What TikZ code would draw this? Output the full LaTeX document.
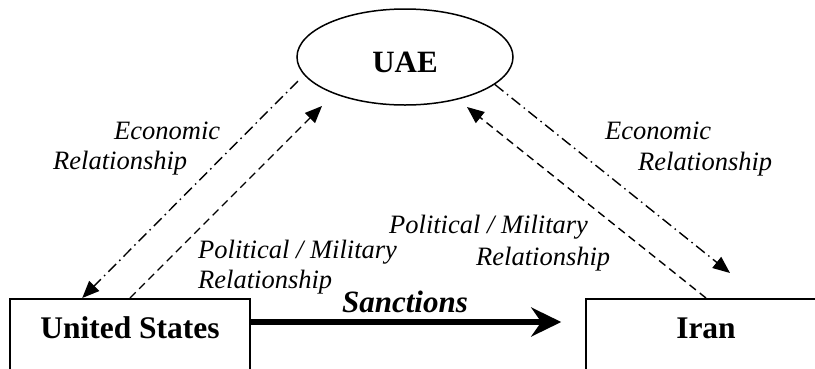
\documentclass[tikz,border=0pt]{standalone}
\usepackage{fontspec}
\setmainfont{Liberation Serif}
\usetikzlibrary{arrows.meta,calc,shapes.geometric}

\tikzset{
  actor/.style={draw, line width=1.5pt, minimum width=240pt, anchor=north,
    inner xsep=0pt, inner ysep=19pt, text height=21pt, text depth=60pt,
    font=\fontsize{31.5}{36}\selectfont\bfseries},
  hub/.style={draw, ellipse, line width=1.5pt, minimum width=216pt,
    minimum height=96pt, inner sep=0pt, text height=31pt, text depth=0pt,
    font=\fontsize{31}{36}\selectfont\bfseries},
  lbl/.style={anchor=base west, inner sep=0pt,
    font=\fontsize{26.5}{30}\selectfont\itshape},
  econ/.style={line width=1.4pt,
    dash pattern=on 11pt off 4.5pt on 1.5pt off 4.5pt,
    -{Triangle[length=17pt,width=14pt]}},
  polit/.style={line width=1.4pt, dash pattern=on 8pt off 5pt,
    -{Triangle[length=17pt,width=14pt]}},
  sanction/.style={line width=5.5pt,
    -{Stealth[length=30pt,width=29pt,inset=10pt]}},
}

\begin{document}
\begin{tikzpicture}[x=1pt,y=-1pt]
  \useasboundingbox (0,0) rectangle (815,368);

  % the three parties
  \node[hub] (uae) at (405,57) {UAE};
  \node[actor] (us) at (130,298) {United States};
  \node[actor] (iran) at (706,298) {Iran};

  % free ends of the relationship arrows
  \coordinate (usEcon) at ($(us.north west)+(73,0)$);
  \coordinate (uaePolL) at (322,106);
  \coordinate (uaeEconL) at (298,81);
  \coordinate (iranEcon) at (730,273);
  \coordinate (uaePolR) at (467,107);
  \coordinate (sanFrom) at ($(us.north east)+(0,24)$);
  \coordinate (sanTo) at ($(iran.north west)+(-24,24)$);

  % UAE -- United States
  \draw[econ] (uaeEconL) -- (usEcon);
  \draw[polit] (us.north) -- (uaePolL);

  % UAE -- Iran
  \draw[econ] (uae.-17) -- (iranEcon);
  \draw[polit] (iran.north) -- (uaePolR);

  % sanctions
  \draw[sanction] (sanFrom) -- (sanTo);
  \node[anchor=base, inner sep=0pt,
    font=\fontsize{31}{36}\selectfont\bfseries\itshape] (sanLbl) at (405,312) {Sanctions};

  % relationship labels
  \node[lbl] (econL1) at (114,139) {Economic};
  \node[lbl] (econL2) at (53,169) {Relationship};
  \node[lbl] (polL1) at (198,258) {Political / Military};
  \node[lbl] (polL2) at (198,288) {Relationship};
  \node[lbl] (econR1) at (605,139) {Economic};
  \node[lbl] (econR2) at (638,170) {Relationship};
  \node[lbl] (polR1) at (389,233) {Political / Military};
  \node[lbl] (polR2) at (476,265) {Relationship};
\end{tikzpicture}
\end{document}
